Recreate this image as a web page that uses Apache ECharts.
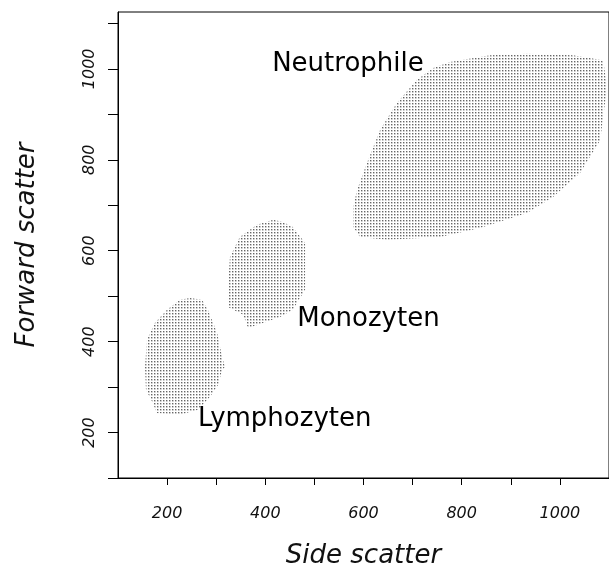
<!DOCTYPE html>
<html>
<head>
<meta charset="utf-8">
<script src="https://cdn.jsdelivr.net/npm/echarts@6/dist/echarts.min.js"></script>
<style>
  html, body { margin: 0; padding: 0; background: #fff; }
  #chart { width: 609px; height: 572px; }
</style>
</head>
<body>
<div id="chart"></div>
<script>
// Axis ticks and labelled values
const xTickValues = [200, 300, 400, 500, 600, 700, 800, 900, 1000, 1100];
const xLabelValues = [200, 400, 600, 800, 1000];
const yTickValues = [100, 200, 300, 400, 500, 600, 700, 800, 900, 1000, 1100];
const yLabelValues = [200, 400, 600, 800, 1000];

// Cluster outlines: [side scatter, forward scatter]
const neutrophileOutline = [
  [776, 1015], [858, 1030], [933, 1033], [1027, 1030], [1088, 1019], [1096, 960],
  [1082, 843], [1041, 771], [986, 718], [933, 683], [837, 650], [756, 630],
  [648, 624], [593, 630], [579, 652], [579, 696], [587, 734], [607, 793],
  [634, 866], [668, 925], [709, 976], [742, 1002]
];
const monozytenOutline = [
  [416, 668], [436, 663], [456, 652], [481, 617], [481, 514], [456, 470],
  [430, 454], [395, 441], [365, 430], [355, 459], [324, 476], [324, 520],
  [328, 586], [348, 630], [383, 657]
];
const lymphozytenOutline = [
  [247, 496], [271, 492], [283, 470], [302, 419], [312, 366], [318, 344],
  [312, 338], [304, 305], [287, 278], [263, 250], [226, 239], [179, 243],
  [171, 265], [157, 294], [155, 344], [159, 404], [175, 441], [200, 470],
  [226, 492]
];

// Cluster names and where they are written
const clusterNames = ['Neutrophile', 'Monozyten', 'Lymphozyten'];
const clusterNamePositions = [[414, 1010], [465, 449], [263, 229]];

// 3x3 tile holding one small soft grey dot, repeated to fill each cluster
function dotTile() {
  const c = document.createElement('canvas');
  c.width = 3; c.height = 3;
  const g = c.getContext('2d');
  g.fillStyle = '#ffffff';
  g.fillRect(0, 0, 3, 3);
  g.fillStyle = '#c4c4c4';
  g.fillRect(2, 1, 1, 1);
  g.fillRect(1, 2, 1, 1);
  g.fillStyle = '#e0e0e0';
  g.fillRect(2, 2, 1, 1);
  g.fillStyle = '#666666';
  g.fillRect(1, 1, 1, 1);
  return c;
}
const dotPattern = { image: dotTile(), repeat: 'repeat' };

function clusterSeries(name, outline) {
  return {
    name: name,
    type: 'custom',
    silent: true,
    data: outline,
    renderItem: function (params, api) {
      if (params.dataIndex !== 0) return null;
      const pts = outline.map(function (p) { return api.coord(p); });
      return {
        type: 'polygon',
        shape: { points: pts },
        style: { fill: dotPattern, stroke: null }
      };
    }
  };
}

const chart = echarts.init(document.getElementById('chart'), null, { renderer: 'canvas' });

const axisNameStyle = {
  fontFamily: 'DejaVu Sans',
  fontStyle: 'italic',
  fontSize: 26,
  color: '#111'
};
const tickLabelStyle = {
  fontFamily: 'DejaVu Sans',
  fontStyle: 'italic',
  fontSize: 16,
  color: '#111'
};
const plainNumber = function (v) { return String(v); };

chart.setOption({
  animation: false,
  backgroundColor: '#fff',
  grid: {
    left: 118, right: 0, top: 12, bottom: 94,
    containLabel: false,
    outerBoundsMode: 'none',
    show: true,
    borderColor: '#000',
    borderWidth: 1
  },
  xAxis: {
    type: 'value',
    min: 100, max: 1100,
    name: 'Side scatter',
    nameLocation: 'middle',
    nameGap: 65,
    nameTextStyle: axisNameStyle,
    splitLine: { show: false },
    axisLine: { show: true, onZero: false, lineStyle: { color: '#000', width: 1 } },
    axisTick: { show: true, length: 7, customValues: xTickValues, lineStyle: { color: '#000' } },
    axisLabel: Object.assign({ margin: 28, customValues: xLabelValues, formatter: plainNumber }, tickLabelStyle)
  },
  yAxis: {
    type: 'value',
    min: 100, max: 1125,
    name: 'Forward scatter',
    nameLocation: 'middle',
    nameGap: 78,
    nameTextStyle: axisNameStyle,
    splitLine: { show: false },
    axisLine: { show: true, onZero: false, lineStyle: { color: '#000', width: 1 } },
    axisTick: { show: true, length: 10, customValues: yTickValues, lineStyle: { color: '#000' } },
    axisLabel: Object.assign({ margin: 20, rotate: 90, customValues: yLabelValues, formatter: plainNumber }, tickLabelStyle)
  },
  series: [
    clusterSeries('Neutrophile', neutrophileOutline),
    clusterSeries('Monozyten', monozytenOutline),
    clusterSeries('Lymphozyten', lymphozytenOutline),
    {
      type: 'scatter',
      silent: true,
      symbolSize: 0,
      itemStyle: { opacity: 1 },
      data: clusterNames.map(function (n, i) {
        return { name: n, value: clusterNamePositions[i] };
      }),
      label: {
        show: true,
        position: 'right',
        distance: 0,
        formatter: '{b}',
        fontFamily: 'DejaVu Sans',
        fontSize: 26,
        color: '#000'
      }
    }
  ]
});
</script>
</body>
</html>
